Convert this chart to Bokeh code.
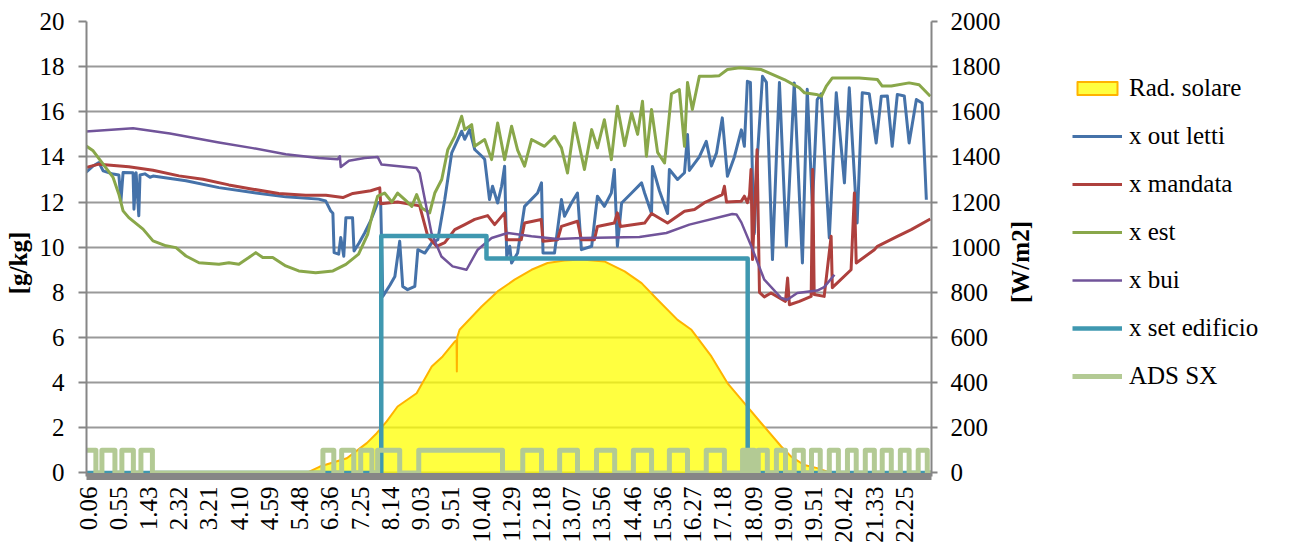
import numpy as np
from bokeh.plotting import figure
from bokeh.layouts import row
from bokeh.models import Range1d, LinearAxis, FixedTicker, Legend, LegendItem, Label
from bokeh.embed import file_html
from bokeh.resources import INLINE

FONT = "Liberation Serif"
FS = "25px"

# x positions are category positions (0 = first labelled sample "0.06")
tick_labels = ["0.06", "0.55", "1.43", "2.32", "3.21", "4.10", "4.59", "5.48", "6.36",
               "7.25", "8.14", "9.03", "9.51", "10.40", "11.29", "12.18", "13.07", "13.56",
               "14.46", "15.36", "16.27", "17.18", "18.09", "19.00", "19.51", "20.42",
               "21.33", "22.25"]

# Rad. solare [W/m2] (right axis)
rad_x = [7.23, 7.67, 8.10, 8.56, 9.22, 9.55, 9.88, 10.24, 10.87, 11.37, 11.73, 12.13, 12.19,
         12.20, 12.21, 12.29, 13.02, 13.55, 14.11, 14.67, 15.20, 15.76, 16.32, 17.08, 17.75,
         18.31, 18.84, 19.50, 19.96, 20.62, 21.15, 21.71, 22.27, 22.93, 23.26, 23.69, 24.12, 24.58]
rad_y = [0, 28, 46, 65, 132, 176, 228, 294, 353, 471, 516, 582, 588,
         449, 600, 634, 737, 804, 856, 900, 930, 941, 945, 937, 893,
         841, 767, 678, 634, 516, 398, 309, 220, 117, 72, 35, 21, 0]

# x out letti [g/kg]
out_x = [-0.07, 0.17, 0.36, 0.50, 0.83, 1.02, 1.09, 1.16, 1.49, 1.52, 1.59, 1.68, 1.72, 1.88,
         2.05, 2.15, 3.24, 4.33, 5.45, 6.54, 7.63, 7.86, 8.03, 8.10, 8.14, 8.29, 8.36, 8.46,
         8.53, 8.75, 8.80, 8.97, 9.15, 9.35, 9.58, 9.68, 9.75, 9.98, 10.15, 10.31, 10.41,
         10.57, 10.81, 10.91, 11.14, 11.37, 11.57, 11.80, 12.03, 12.36, 12.46, 12.62, 12.79,
         13.02, 13.12, 13.28, 13.38, 13.55, 13.68, 13.78, 13.85, 13.95, 14.01, 14.21, 14.44,
         14.87, 15.00, 15.05, 15.43, 15.66, 15.76, 15.99, 16.19, 16.32, 16.66, 16.85, 17.08,
         17.31, 17.41, 17.51, 17.65, 17.98, 18.31, 18.41, 18.64, 18.67, 18.90, 19.17, 19.23,
         19.50, 19.73, 19.83, 19.89, 20.22, 20.45, 20.62, 20.79, 20.98, 21.15, 21.38, 21.61,
         21.71, 21.81, 21.91, 21.98, 22.04, 22.14, 22.31, 22.44, 22.64, 22.77, 22.87, 23.10,
         23.36, 23.63, 23.79, 23.96, 24.12, 24.25, 24.52, 24.75, 25.02, 25.18, 25.44, 25.61,
         25.84, 26.07, 26.24, 26.44, 26.60, 26.77, 27.00, 27.16, 27.40, 27.59, 27.73]
out_y = [13.31, 13.6, 13.75, 13.38, 13.24, 13.2, 12.05, 13.31, 13.3, 11.68, 13.3, 11.39, 13.2,
         13.25, 13.1, 13.15, 12.94, 12.64, 12.42, 12.23, 12.13, 12.05, 11.6, 11.5, 9.76, 9.69,
         10.43, 9.6, 11.31, 11.31, 9.83, 10.2, 10.63, 11.17, 11.96, 12.0, 7.82, 8.3, 8.7,
         10.26, 8.26, 8.12, 8.26, 9.89, 9.74, 10.19, 10.33, 12.11, 14.18, 15.14, 14.78, 15.21,
         14.33, 14.04, 13.9, 12.11, 12.7, 11.96, 12.7, 13.59, 9.59, 10.04, 9.3, 9.74, 11.81,
         12.4, 12.85, 9.74, 9.74, 12.11, 11.37, 11.96, 12.4, 9.89, 10.04, 12.26, 11.81, 12.4,
         13.44, 10.04, 11.96, 12.4, 12.85, 12.4, 11.49, 13.58, 12.5, 11.49, 13.44, 13.0, 13.3,
         14.99, 13.4, 14.0, 14.69, 13.6, 14.18, 15.73, 13.14, 14.0, 15.2, 14.47, 17.35, 17.3,
         13.0, 10.6, 14.0, 17.57, 17.3, 9.45, 14.0, 17.3, 10.04, 17.28, 9.3, 17.0, 11.81, 16.54,
         16.8, 10.41, 16.84, 12.85, 17.06, 11.07, 16.84, 16.8, 14.62, 16.69, 16.7, 14.47, 16.77,
         16.7, 14.62, 16.54, 16.39, 12.1]

# x mandata [g/kg]
mand_x = [-0.07, 0.36, 1.35, 2.15, 3.01, 3.80, 4.66, 5.45, 6.31, 7.20, 7.87, 8.43, 8.76, 9.35,
          9.65, 9.68, 10.24, 10.97, 11.24, 11.53, 11.80, 12.13, 12.46, 12.79, 13.22, 13.45,
          13.78, 13.84, 14.33, 14.44, 14.99, 15.05, 15.53, 15.66, 16.19, 16.32, 16.75, 16.85,
          17.41, 17.51, 17.61, 18.41, 18.64, 19.17, 19.73, 20.06, 20.39, 20.98, 21.05, 21.12,
          21.61, 21.71, 21.81, 21.88, 21.93, 21.98, 22.13, 22.21, 22.37, 22.59, 23.07, 23.14,
          23.20, 23.53, 23.92, 23.97, 24.02, 24.35, 24.58, 24.62, 24.69, 25.24, 25.35, 25.41,
          26.01, 26.11, 26.77, 27.23, 27.86]
mand_y = [13.53, 13.68, 13.56, 13.41, 13.16, 13.01, 12.76, 12.57, 12.38, 12.3, 12.3, 12.2,
          12.38, 12.5, 12.63, 11.93, 12.0, 11.83, 10.48, 10.04, 10.2, 10.78, 11.0, 11.23, 11.4,
          11.0, 11.52, 10.33, 10.33, 11.07, 11.23, 10.26, 10.33, 10.92, 11.15, 10.33, 10.33,
          10.92, 11.07, 11.52, 10.92, 11.07, 11.49, 11.07, 11.59, 11.67, 11.97, 12.33, 12.7,
          12.0, 12.04, 12.26, 11.97, 12.3, 13.44, 9.45, 14.32, 8.0, 7.8, 7.97, 7.6, 8.63, 7.45,
          7.6, 7.82, 13.44, 7.9, 7.82, 10.48, 8.2, 8.3, 9.0, 12.4, 9.3, 9.89, 10.04, 10.48,
          10.78, 11.25]

# x est [g/kg]
est_x = [-0.07, 0.17, 0.50, 0.83, 1.02, 1.16, 1.35, 1.82, 2.15, 2.58, 2.91, 3.24, 3.67, 4.33,
         4.66, 4.99, 5.32, 5.55, 5.78, 6.11, 6.54, 6.97, 7.53, 8.10, 8.53, 8.95, 9.25, 9.39,
         9.58, 9.81, 10.05, 10.24, 10.48, 10.71, 10.87, 11.04, 11.30, 11.47, 11.70, 11.90,
         12.13, 12.36, 12.46, 12.69, 12.79, 13.12, 13.35, 13.55, 13.78, 14.01, 14.21, 14.44,
         14.67, 15.10, 15.43, 15.66, 15.86, 16.09, 16.42, 16.66, 16.85, 17.08, 17.31, 17.51,
         17.75, 17.98, 18.18, 18.34, 18.47, 18.64, 18.84, 19.07, 19.30, 19.56, 19.73, 19.83,
         19.99, 20.22, 20.62, 20.88, 21.15, 21.55, 22.27, 23.03, 23.53, 23.70, 24.09, 24.26,
         24.42, 24.62, 25.51, 26.11, 26.27, 26.57, 27.16, 27.49, 27.86]
est_y = [14.49, 14.27, 13.68, 13.09, 12.35, 11.61, 11.31, 10.8, 10.28, 10.06, 9.98, 9.61, 9.31,
         9.24, 9.31, 9.24, 9.54, 9.76, 9.54, 9.54, 9.17, 8.95, 8.87, 8.95, 9.24, 9.69, 10.57,
         11.37, 12.26, 12.4, 12.0, 12.4, 12.11, 11.81, 12.33, 11.74, 11.52, 12.4, 13.0, 14.32,
         14.91, 15.8, 15.21, 15.43, 14.47, 14.77, 13.88, 15.5, 13.88, 15.36, 14.3, 13.59, 14.77,
         14.47, 14.91, 14.4, 13.29, 15.5, 13.44, 15.21, 14.4, 15.65, 13.88, 16.24, 14.5, 15.95,
         15.0, 16.47, 14.03, 16.1, 14.2, 13.73, 16.8, 16.98, 14.47, 17.3, 16.1, 17.57, 17.57,
         17.6, 17.87, 17.95, 17.87, 17.43, 17.06, 16.84, 16.77, 16.69, 17.14, 17.5, 17.5, 17.43,
         17.14, 17.14, 17.28, 17.2, 16.69]

# x bui [g/kg]
bui_x = [-0.07, 1.49, 2.71, 4.33, 5.45, 6.54, 7.63, 8.26, 8.33, 8.36, 8.63, 9.15, 9.58, 9.71,
         10.86, 10.97, 11.36, 11.69, 12.06, 12.52, 12.89, 13.35, 13.88, 14.67, 15.53, 16.36,
         18.24, 19.13, 19.89, 21.31, 21.45, 21.61, 21.94, 22.37, 22.93, 23.13, 23.46, 24.12,
         24.35, 24.69]
bui_y = [15.13, 15.27, 15.04, 14.64, 14.39, 14.12, 13.95, 13.9, 14.03, 13.55, 13.83, 13.95,
         14.0, 13.66, 13.51, 13.29, 10.63, 9.59, 9.15, 9.0, 9.89, 10.41, 10.63, 10.48, 10.36,
         10.41, 10.45, 10.63, 11.0, 11.47, 11.45, 11.1, 10.04, 8.56, 7.75, 7.67, 7.97, 8.08,
         8.23, 8.78]

# x set edificio [g/kg] (step values, each holds until next position)
set_x = [-0.07, 9.70, 13.18, 21.82, 27.95]
set_y = [0, 10.5, 9.5, 0, 0]

# ADS SX (on/off state, holds until next position)
ads_x = [-0.07, 0.26, 0.46, 0.89, 1.12, 1.50, 1.75, 2.13, 7.77, 8.13, 8.39, 8.79, 9.02, 9.39,
         9.58, 10.31, 10.94, 13.71, 14.38, 15.00, 15.60, 16.19, 16.82, 17.42, 18.04, 18.64,
         19.23, 19.83, 20.45, 21.05, 21.65, 21.75, 21.79, 21.88, 21.91, 22.04, 22.17, 22.47,
         22.77, 23.07, 23.36, 23.66, 23.93, 24.22, 24.52, 24.82, 25.12, 25.41, 25.71, 26.01,
         26.27, 26.57, 26.87, 27.16, 27.46, 27.76, 27.95]
ads_y = [1, 0, 1, 0, 1, 0, 1, 0, 1, 0, 1, 0, 1, 0,
         1, 0, 1, 0, 1, 0, 1, 0, 1, 0, 1, 0,
         1, 0, 1, 0, 1, 0, 1, 0, 1, 0, 1, 0,
         1, 0, 1, 0, 1, 0, 1, 0, 1, 0, 1, 0,
         1, 0, 1, 0, 1, 0, 0]

left_ticks = list(range(0, 21, 2))
right_ticks = list(range(0, 2001, 200))
H = 548


def blank_panel(width):
    f = figure(width=width, height=H, output_backend="svg", toolbar_location=None,
               x_range=Range1d(100, 101), y_range=Range1d(100, 101),
               min_border_left=0, min_border_right=0, min_border_top=0, min_border_bottom=0)
    f.axis.visible = False
    f.grid.visible = False
    f.outline_line_color = None
    f.background_fill_color = "white"
    f.border_fill_color = "white"
    return f


def side_title(text, x, y):
    return Label(x=x, y=y, x_units="screen", y_units="screen", text=text,
                 angle=np.pi / 2, text_align="center", text_baseline="middle",
                 text_font=FONT, text_font_size=FS, text_font_style="bold",
                 text_color="black")


p = figure(frame_width=845, frame_height=455, output_backend="svg", toolbar_location=None,
           x_range=Range1d(-0.05, 27.9), y_range=Range1d(-0.16, 20),
           min_border_left=50, min_border_right=0, min_border_top=21, min_border_bottom=71)
p.extra_y_ranges = {"rad": Range1d(-16, 2000)}
p.outline_line_color = None
p.background_fill_color = "white"
p.border_fill_color = "white"

# grid
p.xgrid.visible = False
p.ygrid.ticker = FixedTicker(ticks=left_ticks)
p.ygrid.grid_line_color = "#9a9a9a"
p.ygrid.grid_line_width = 2

# x axis
xa = p.xaxis[0]
xa.ticker = FixedTicker(ticks=list(range(len(tick_labels))))
xa.major_label_overrides = {i: t for i, t in enumerate(tick_labels)}
xa.major_label_orientation = np.pi / 2
xa.axis_line_color = "#868686"
xa.axis_line_width = 7
xa.major_tick_line_color = None
xa.minor_tick_line_color = None
xa.major_tick_out = 0
xa.major_tick_in = 0
xa.major_label_standoff = 10
xa.major_label_text_font = FONT
xa.major_label_text_font_size = FS
xa.major_label_text_color = "black"

# left axis (title drawn in the left side panel)
ya = p.yaxis[0]
ya.ticker = FixedTicker(ticks=left_ticks)
ya.major_label_text_font = FONT
ya.major_label_text_font_size = FS
ya.major_label_text_color = "black"
ya.major_label_standoff = 14
ya.axis_line_color = "#868686"
ya.axis_line_width = 2
ya.major_tick_line_color = "#868686"
ya.major_tick_line_width = 2
ya.major_tick_out = 8
ya.major_tick_in = 0
ya.minor_tick_line_color = None

# right axis (title drawn in the right side panel)
ra = LinearAxis(y_range_name="rad", ticker=FixedTicker(ticks=right_ticks))
ra.major_label_text_font = FONT
ra.major_label_text_font_size = FS
ra.major_label_text_color = "black"
ra.major_label_standoff = 13
ra.axis_line_color = "#868686"
ra.axis_line_width = 2
ra.major_tick_line_color = "#868686"
ra.major_tick_line_width = 2
ra.major_tick_out = 6
ra.major_tick_in = 0
ra.minor_tick_line_color = None
p.add_layout(ra, "right")

# series styles
st_rad = dict(fill_color="#FFFF00", fill_alpha=0.75, line_color="#FFB300", line_width=2, line_join="round")
st_out = dict(line_color="#4572A9", line_width=3, line_join="round")
st_mand = dict(line_color="#AE403D", line_width=3, line_join="round")
st_est = dict(line_color="#89A74A", line_width=3, line_join="round")
st_bui = dict(line_color="#71549A", line_width=2.5, line_join="round")
st_set = dict(line_color="#3F98B0", line_width=4.5, line_join="round")
st_ads = dict(line_color="#B3CA94", line_width=5, line_join="round")

p.varea(x=rad_x, y1=[0] * len(rad_x), y2=rad_y, y_range_name="rad",
        fill_color=st_rad["fill_color"], fill_alpha=st_rad["fill_alpha"])
p.line(rad_x, rad_y, y_range_name="rad", line_color=st_rad["line_color"], line_width=2,
       line_join="round")
p.line(out_x, out_y, **st_out)
p.line(mand_x, mand_y, **st_mand)
p.line(est_x, est_y, **st_est)
p.line(bui_x, bui_y, **st_bui)
p.step(set_x, set_y, mode="after", **st_set)
p.step(ads_x, ads_y, mode="after", **st_ads)

# left side panel: left axis title
lp = blank_panel(36)
lp.add_layout(side_title("[g/kg]", 18, 214.5))

# right side panel: right axis title + legend (series proxies lie outside its visible range)
q = blank_panel(272)
rad_px = [rad_x[0]] + rad_x + [rad_x[-1]]
rad_py = [0] + rad_y + [0]
k_rad = q.patch(rad_px, rad_py, **st_rad)
k_out = q.line(out_x, out_y, **st_out)
k_mand = q.line(mand_x, mand_y, **st_mand)
k_est = q.line(est_x, est_y, **st_est)
k_bui = q.line(bui_x, bui_y, **st_bui)
k_set = q.step(set_x, set_y, mode="after", **st_set)
k_ads = q.step(ads_x, ads_y, mode="after", **st_ads)

q.add_layout(side_title("[W/m2]", 17, 215.5))

legend = Legend(items=[
    LegendItem(label="Rad. solare", renderers=[k_rad]),
    LegendItem(label="x out letti", renderers=[k_out]),
    LegendItem(label="x mandata", renderers=[k_mand]),
    LegendItem(label="x est", renderers=[k_est]),
    LegendItem(label="x bui", renderers=[k_bui]),
    LegendItem(label="x set edificio", renderers=[k_set]),
    LegendItem(label="ADS SX", renderers=[k_ads]),
], location=(69, 87))
legend.glyph_width = 50
legend.glyph_height = 16
legend.label_height = 20
legend.spacing = 20
legend.padding = 0
legend.margin = 0
legend.label_standoff = 7
legend.label_text_font = FONT
legend.label_text_font_size = FS
legend.label_text_color = "black"
legend.border_line_color = None
legend.background_fill_alpha = 0
q.add_layout(legend, "center")

layout = row(lp, p, q)
open("out.html", "w").write(file_html(layout, INLINE))
